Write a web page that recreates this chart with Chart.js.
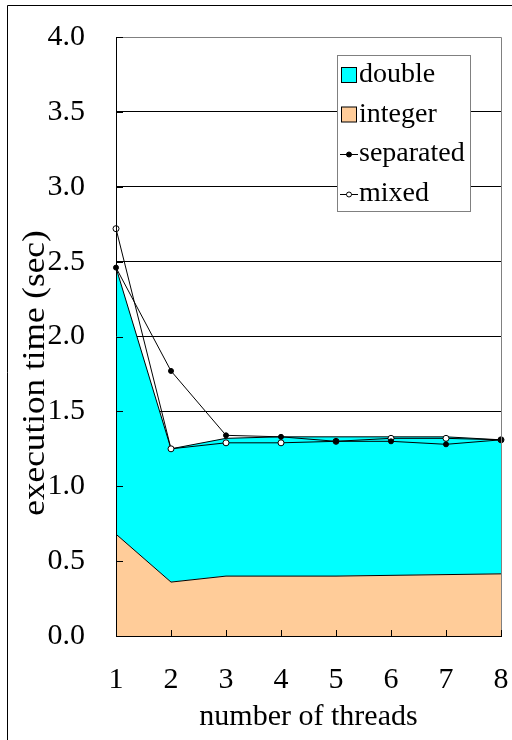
<!DOCTYPE html>
<html>
<head>
<meta charset="utf-8">
<script src="https://cdn.jsdelivr.net/npm/chart.js@4/dist/chart.umd.min.js"></script>
<style>
  html, body { margin: 0; padding: 0; background: #fff; }
  #wrap { width: 512px; height: 740px; font-family: "Liberation Serif", serif; }
  .warm { position: absolute; left: -1000px; top: 0; font-family: "Liberation Serif", serif; font-size: 30px; }
</style>
</head>
<body>
<span class="warm">number of threads 0.5</span>
<div id="wrap"><canvas id="threadsChart" width="512" height="740"></canvas></div>
<script>
const threads = ["1", "2", "3", "4", "5", "6", "7", "8"];
const integerTime = [0.68, 0.36, 0.40, 0.40, 0.40, 0.405, 0.41, 0.415];
const doubleTime = [1.78, 0.89, 0.92, 0.93, 0.93, 0.925, 0.92, 0.895];
const separatedTime = [2.46, 1.77, 1.34, 1.33, 1.30, 1.30, 1.28, 1.31];
const mixedTime = [2.72, 1.25, 1.29, 1.29, 1.30, 1.32, 1.32, 1.31];
const legendOrder = ["double", "integer", "separated", "mixed"];

const SERIF = '"Liberation Serif", serif';

// frame, inward ticks, right border, y title, legend box
const decorations = {
  id: "decorations",
  beforeDraw(chart) {
    const ctx = chart.ctx;
    ctx.save();
    ctx.fillStyle = "#fff";
    ctx.fillRect(0, 0, chart.width, chart.height);
    ctx.strokeStyle = "#000";
    ctx.lineWidth = 1;
    ctx.beginPath();
    ctx.moveTo(7.5, chart.height);
    ctx.lineTo(7.5, 5.5);
    ctx.lineTo(chart.width, 5.5);
    ctx.stroke();
    ctx.restore();
  },
  afterDatasetsDraw(chart) {
    const ctx = chart.ctx;
    const { left, right, top, bottom } = chart.chartArea;
    const x = chart.scales.x, y = chart.scales.y;
    ctx.save();
    ctx.strokeStyle = "#808080";
    ctx.lineWidth = 1;
    ctx.beginPath();
    ctx.moveTo(left, top + 0.5);
    ctx.lineTo(right + 0.5, top + 0.5);
    ctx.lineTo(right + 0.5, bottom);
    ctx.stroke();
    ctx.strokeStyle = "#000";
    ctx.beginPath();
    threads.forEach((t, i) => {
      const px = Math.round(x.getPixelForValue(i)) + 0.5;
      ctx.moveTo(px, bottom);
      ctx.lineTo(px, bottom - 6);
    });
    for (let v = 0; v <= 4; v += 0.5) {
      const py = Math.round(y.getPixelForValue(v)) + 0.5;
      ctx.moveTo(left, py);
      ctx.lineTo(left + 7, py);
    }
    ctx.moveTo(left + 0.5, top);
    ctx.lineTo(left + 0.5, bottom);
    ctx.moveTo(left, bottom + 0.5);
    ctx.lineTo(right + 1, bottom + 0.5);
    ctx.stroke();
    ctx.restore();
  },
  afterDraw(chart) {
    const ctx = chart.ctx;
    ctx.save();
    // y axis title (slightly stretched like the original)
    ctx.translate(36, 373);
    ctx.rotate(-Math.PI / 2);
    ctx.scale(1.1, 1);
    ctx.font = "32px " + SERIF;
    ctx.fillStyle = "#000";
    ctx.textAlign = "center";
    ctx.textBaseline = "middle";
    ctx.fillText("execution time (sec)", 0, 0);
    ctx.restore();

    // legend
    ctx.save();
    const bx = 337.5, by = 55.5, bw = 133, bh = 156;
    ctx.fillStyle = "#fff";
    ctx.fillRect(bx, by, bw, bh);
    ctx.strokeStyle = "#808080";
    ctx.lineWidth = 1;
    ctx.strokeRect(bx, by, bw, bh);
    ctx.font = "28px " + SERIF;
    ctx.textBaseline = "middle";
    ctx.textAlign = "left";
    legendOrder.forEach((name, i) => {
      const ds = chart.data.datasets.find(d => d.label === name);
      const cy = 75 + i * 39.5;
      if (ds.fill) {
        ctx.fillStyle = ds.backgroundColor;
        ctx.fillRect(341.5, cy - 7.5, 15, 15);
        ctx.strokeStyle = "#000";
        ctx.strokeRect(341.5, cy - 7.5, 15, 15);
      } else {
        ctx.strokeStyle = "#000";
        ctx.beginPath();
        ctx.moveTo(340, Math.round(cy) + 0.5);
        ctx.lineTo(358, Math.round(cy) + 0.5);
        ctx.stroke();
        ctx.beginPath();
        ctx.arc(349, Math.round(cy) + 0.5, 2.5, 0, Math.PI * 2);
        ctx.fillStyle = ds.pointBackgroundColor;
        ctx.fill();
        ctx.stroke();
      }
      ctx.fillStyle = "#000";
      ctx.fillText(name, 359, cy);
    });
    ctx.restore();
  }
};

function drawChart() {
  Chart.defaults.font.family = SERIF;
  new Chart(document.getElementById("threadsChart"), {
    type: "line",
    data: {
      labels: threads,
      datasets: [
        {
          label: "separated", data: separatedTime, stack: "sep", fill: false,
          borderColor: "#000", borderWidth: 1, tension: 0,
          pointRadius: 2.5, pointBackgroundColor: "#000", pointBorderColor: "#000", pointBorderWidth: 1,
          clip: false
        },
        {
          label: "mixed", data: mixedTime, stack: "mix", fill: false,
          borderColor: "#000", borderWidth: 1, tension: 0,
          pointRadius: 3, pointBackgroundColor: "#fff", pointBorderColor: "#000", pointBorderWidth: 1,
          clip: false
        },
        {
          label: "integer", data: integerTime, stack: "area", fill: "origin",
          backgroundColor: "#FFCC99", borderColor: "#000", borderWidth: 1, tension: 0,
          pointRadius: 0
        },
        {
          label: "double", data: doubleTime, stack: "area", fill: "-1",
          backgroundColor: "#00FFFF", borderColor: "#000", borderWidth: 1, tension: 0,
          pointRadius: 0
        }
      ]
    },
    options: {
      responsive: false,
      animation: false,
      layout: { padding: { top: 37, right: 11, left: 0, bottom: 0 } },
      plugins: {
        legend: { display: false },
        tooltip: { enabled: false }
      },
      scales: {
        x: {
          offset: false,
          grid: { display: false, drawTicks: false },
          border: { display: false },
          ticks: { color: "#000", padding: 26, font: { family: SERIF, size: 30 }, maxRotation: 0 },
          title: {
            display: true, text: "number of threads", color: "#000",
            font: { family: SERIF, size: 30, lineHeight: 1 }, padding: { top: 0, bottom: 8 }
          },
          afterFit(scale) {
            scale.height = 104;
            scale.paddingLeft = 0;
            scale.paddingRight = 0;
          }
        },
        y: {
          stacked: true,
          min: 0, max: 4,
          grid: { color: "#000", lineWidth: 1, drawTicks: false },
          border: { display: false },
          ticks: {
            stepSize: 0.5, color: "#000", padding: 31,
            font: { family: SERIF, size: 30 },
            callback: v => v.toFixed(1)
          },
          afterFit(scale) {
            scale.width = 116;
            scale.paddingTop = 0;
            scale.paddingBottom = 0;
          }
        }
      }
    },
    plugins: [decorations]
  });
}

if (document.fonts && document.fonts.load) {
  document.fonts.load('30px "Liberation Serif"').then(drawChart, drawChart);
} else {
  drawChart();
}
</script>
</body>
</html>
